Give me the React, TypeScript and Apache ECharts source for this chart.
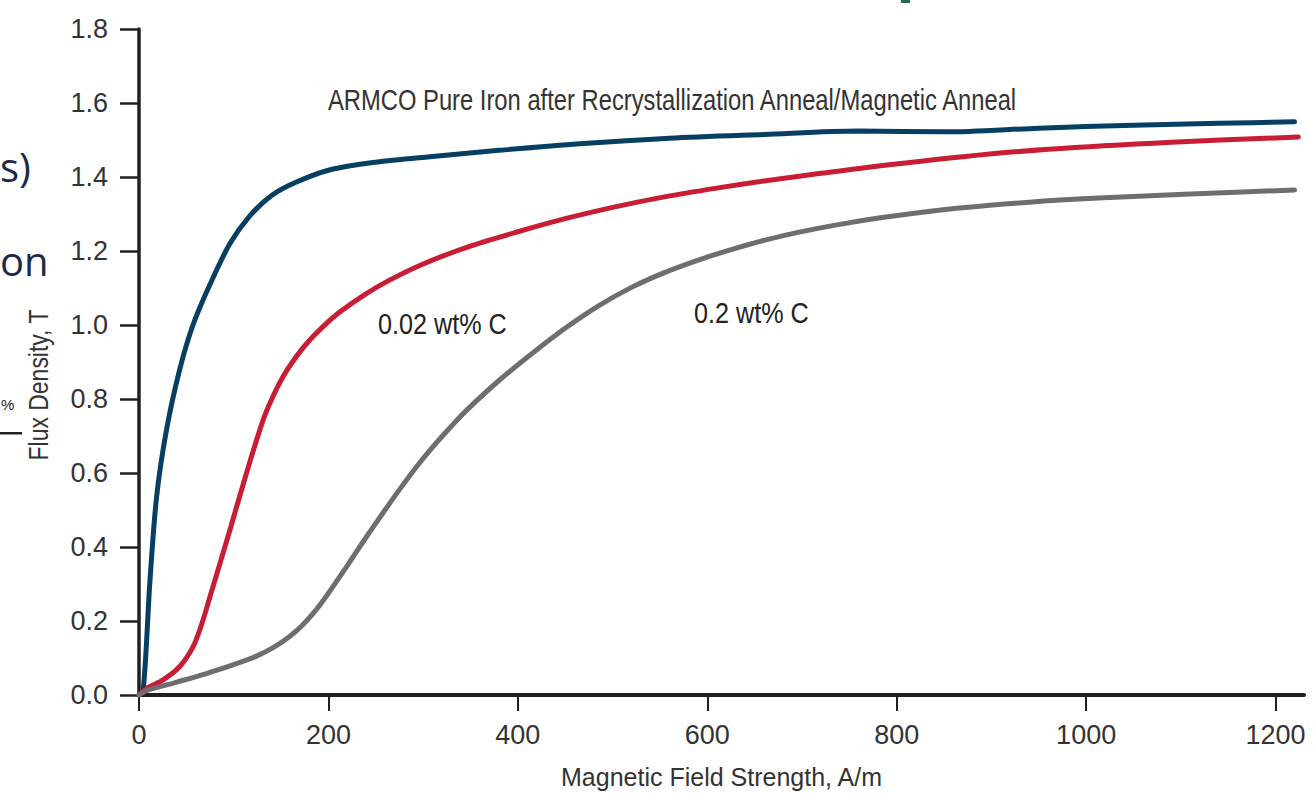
import React, { useEffect, useRef } from "react";
import * as echarts from "echarts";

// Magnetic field strength H (A/m) and flux density B (T)
const pureIronH = [0, 4.5, 11.6, 18.6, 29, 43, 57, 75, 96, 117, 140, 165, 201, 250, 307, 380, 465, 560, 660, 760, 850, 950, 1050, 1140, 1220];
const pureIronB = [0, 0.014, 0.31, 0.536, 0.716, 0.88, 1.0, 1.11, 1.22, 1.295, 1.35, 1.385, 1.419, 1.44, 1.455, 1.472, 1.49, 1.505, 1.515, 1.524, 1.522, 1.532, 1.54, 1.545, 1.549];

const c002H = [0, 8, 25, 43, 57, 66, 75, 96, 113.5, 131, 142, 152, 162, 177, 194, 212, 240, 265, 300, 346, 400, 451, 500, 556, 610, 662, 720, 781, 870, 960, 1090, 1224];
const c002B = [0, 0.018, 0.04, 0.077, 0.13, 0.19, 0.266, 0.446, 0.6, 0.743, 0.81, 0.86, 0.9, 0.95, 0.995, 1.035, 1.085, 1.122, 1.165, 1.21, 1.252, 1.288, 1.318, 1.347, 1.37, 1.39, 1.41, 1.43, 1.455, 1.475, 1.494, 1.508];

const c02H = [0, 8, 40, 71, 100, 124, 143, 159, 173, 187, 200, 212, 226, 240, 257, 275, 293, 310, 330, 346, 381, 416, 451, 486, 521, 556, 592, 627, 662, 697, 740, 781, 825, 866, 940, 1013, 1110, 1220];
const c02B = [0, 0.012, 0.035, 0.058, 0.082, 0.105, 0.13, 0.158, 0.19, 0.23, 0.275, 0.32, 0.373, 0.427, 0.49, 0.555, 0.617, 0.67, 0.727, 0.77, 0.852, 0.925, 0.993, 1.053, 1.103, 1.143, 1.177, 1.205, 1.23, 1.251, 1.272, 1.289, 1.304, 1.316, 1.332, 1.343, 1.354, 1.365];

const xTicks = [0, 200, 400, 600, 800, 1000, 1200];
const yTicks = [0, 0.2, 0.4, 0.6, 0.8, 1.0, 1.2, 1.4, 1.6, 1.8];

const seriesNames = [
  "ARMCO Pure Iron after Recrystallization Anneal/Magnetic Anneal",
  "0.02 wt% C",
  "0.2 wt% C",
];

const FONT = "'Liberation Sans', Arial, sans-serif";
const AXIS = "#231f20";
const TXT = "#333333";
const NARROW = 0.82;

function pairs(xs: number[], ys: number[]) {
  return xs.map((x, i) => [x, ys[i]]);
}

export default function App() {
  const ref = useRef<HTMLDivElement>(null);
  useEffect(() => {
    if (!ref.current) return;
    const chart = echarts.init(ref.current, undefined, { renderer: "svg" });
    const lineSeries = (name: string, data: number[][], color: string) => ({
      name,
      type: "line",
      data,
      smooth: 0.3,
      showSymbol: false,
      symbol: "none",
      lineStyle: { color, width: 5, cap: "round" },
      z: 3,
    });
    chart.setOption({
      animation: false,
      backgroundColor: "#ffffff",
      grid: { left: 139, right: 10, top: 29, bottom: 99, containLabel: false, outerBoundsMode: "none" },
      xAxis: {
        type: "value",
        min: 0,
        max: 1230,
        interval: 200,
        splitLine: { show: false },
        axisLine: { show: true, onZero: false, lineStyle: { color: AXIS, width: 4 } },
        axisTick: { show: true, length: 16, lineStyle: { color: AXIS, width: 2 }, customValues: xTicks },
        axisLabel: {
          color: TXT,
          fontFamily: FONT,
          fontSize: 27,
          margin: 26,
          customValues: xTicks,
          formatter: (v: number) => String(v),
        },
        name: "Magnetic Field Strength, A/m",
        nameLocation: "middle",
        nameGap: 69,
        nameTextStyle: { color: TXT, fontFamily: FONT, fontSize: 25 },
      },
      yAxis: {
        type: "value",
        min: 0,
        max: 1.8,
        interval: 0.2,
        splitLine: { show: false },
        axisLine: { show: true, onZero: false, lineStyle: { color: AXIS, width: 3.5 } },
        axisTick: { show: true, length: 19, lineStyle: { color: AXIS, width: 2.5 }, customValues: yTicks },
        axisLabel: {
          color: TXT,
          fontFamily: FONT,
          fontSize: 27,
          margin: 31,
          customValues: yTicks,
          formatter: (v: number) => v.toFixed(1),
        },
      },
      series: [
        lineSeries(seriesNames[0], pairs(pureIronH, pureIronB), "#073f62"),
        lineSeries(seriesNames[1], pairs(c002H, c002B), "#c81d34"),
        lineSeries(seriesNames[2], pairs(c02H, c02B), "#6e6e70"),
      ],
      graphic: [
        {
          type: "text",
          x: 38,
          y: 385,
          rotation: Math.PI / 2,
          scaleX: NARROW,
          style: { text: "Flux Density, T", fill: TXT, font: `28px ${FONT}`, align: "center", verticalAlign: "middle" },
        },
        {
          type: "text",
          x: 328,
          y: 100,
          scaleX: NARROW,
          style: { text: seriesNames[0], fill: TXT, font: `29px ${FONT}`, align: "left", verticalAlign: "middle" },
        },
        {
          type: "text",
          x: 378,
          y: 324,
          scaleX: 0.84,
          style: { text: seriesNames[1], fill: "#222", font: `30px ${FONT}`, align: "left", verticalAlign: "middle" },
        },
        {
          type: "text",
          x: 694,
          y: 313,
          scaleX: 0.84,
          style: { text: seriesNames[2], fill: "#222", font: `30px ${FONT}`, align: "left", verticalAlign: "middle" },
        },
        // slide fragments at the left edge
        {
          type: "text",
          x: 0,
          y: 166,
          style: { text: "s)", fill: "#1c2a48", font: `40px 'Open Sans', sans-serif`, align: "left", verticalAlign: "middle" },
        },
        {
          type: "text",
          x: 0,
          y: 260,
          style: { text: "on", fill: "#1c2a48", font: `40px 'Open Sans', sans-serif`, align: "left", verticalAlign: "middle" },
        },
        {
          type: "text",
          x: 1,
          y: 404,
          style: { text: "%", fill: "#222", font: `15px ${FONT}`, align: "left", verticalAlign: "middle" },
        },
        {
          type: "rect",
          shape: { x: 0, y: 432, width: 22, height: 2.5 },
          style: { fill: "#222" },
        },
        {
          type: "rect",
          shape: { x: 901, y: 0, width: 9, height: 3 },
          style: { fill: "#1f6b50" },
        },
      ],
    });
    return () => chart.dispose();
  }, []);
  return (
    <div
      ref={ref}
      style={{ position: "fixed", left: 0, top: 0, width: 1314, height: 794, background: "#fff" }}
    />
  );
}
